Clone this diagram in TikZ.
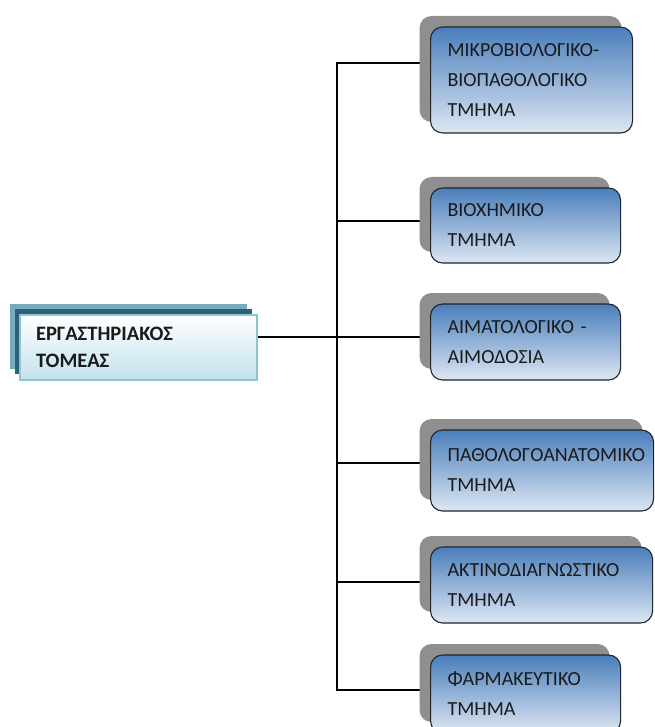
\documentclass[tikz,border=0pt]{standalone}
\usepackage{fontspec}
\setmainfont{Carlito}
\usepackage{xcolor}
\usepackage{tikz}
\usetikzlibrary{shadows, backgrounds, positioning}
\definecolor{sectorback}{HTML}{76ABBE}
\definecolor{sectormid}{HTML}{2B6275}
\definecolor{sectorborder}{HTML}{8DC5D5}
\definecolor{sectorfill}{HTML}{C3E2EB}
\definecolor{deptshadow}{HTML}{8F8F8F}
\definecolor{depttop}{HTML}{4A7EBB}
\definecolor{deptbottom}{HTML}{DDE7F3}
\definecolor{deptborder}{HTML}{1C2630}
\definecolor{textdark}{HTML}{1A1A1A}
\tikzset{
    sectornode/.style = {draw=sectorborder, line width=1.2pt, rectangle, top color=white, bottom color=sectorfill,
      inner xsep=16pt, inner ysep=0pt, node distance=0em, align=left, text=textdark,
      font=\fontsize{20.5}{27}\selectfont\bfseries,
      copy shadow={shadow xshift=-10pt, shadow yshift=11pt, fill=sectorback, draw=none},
      copy shadow={shadow xshift=-5pt, shadow yshift=6pt, fill=sectormid, draw=none}},
    deptnode/.style = {draw=deptborder, line width=1.1pt, rectangle, rounded corners=12pt,
      top color=depttop, bottom color=deptbottom, inner xsep=17pt, inner ysep=0pt,
      node distance=0em, anchor=west, align=left, text=textdark,
      font=\fontsize{20}{30}\selectfont,
      copy shadow={shadow xshift=-11pt, shadow yshift=11pt, fill=deptshadow, draw=none}},
    connect/.style = {black, line width=1.2pt}
}
\hyphenpenalty=10000
\exhyphenpenalty=10000

\begin{document}
\begin{tikzpicture}[x=1pt, y=-1pt]
    \useasboundingbox (0,0) rectangle (654,727);

    \node [name=sector, sectornode, minimum width=237pt, minimum height=65pt, text width=205pt]
        at (138.5,347.5) {ΕΡΓΑΣΤΗΡΙΑΚΟΣ\\ΤΟΜΕΑΣ};

    \node [name=mikro, deptnode, minimum width=202pt, minimum height=106pt, text width=168pt]
        at (430,80) {ΜΙΚΡΟΒΙΟΛΟΓΙΚΟ-\\ΒΙΟΠΑΘΟΛΟΓΙΚΟ\\ΤΜΗΜΑ};
    \node [name=bioxim, deptnode, minimum width=190pt, minimum height=75pt, text width=156pt]
        at (430,225.5) {ΒΙΟΧΗΜΙΚΟ\\ΤΜΗΜΑ};
    \node [name=aimat, deptnode, minimum width=190pt, minimum height=76pt, text width=156pt]
        at (430,342) {ΑΙΜΑΤΟΛΟΓΙΚΟ -\\ΑΙΜΟΔΟΣΙΑ};
    \node [name=pathol, deptnode, minimum width=223pt, minimum height=81pt, text width=189pt]
        at (430,470.5) {ΠΑΘΟΛΟΓΟΑΝΑΤΟΜΙΚΟ\\ΤΜΗΜΑ};
    \node [name=aktin, deptnode, minimum width=222pt, minimum height=76pt, text width=188pt]
        at (430,585) {ΑΚΤΙΝΟΔΙΑΓΝΩΣΤΙΚΟ\\ΤΜΗΜΑ};
    \node [name=farm, deptnode, minimum width=190pt, minimum height=78pt, text width=156pt]
        at (430,694) {ΦΑΡΜΑΚΕΥΤΙΚΟ\\ΤΜΗΜΑ};

    % trunk of the tree
    \coordinate (trunk) at (337,337);

    \begin{scope}[on background layer]
        \draw [connect] (sector.east |- trunk) -- (trunk);
        \foreach \dept/\dy in {mikro/17, bioxim/4.5, aimat/5, pathol/7.5, aktin/3, farm/4}
            \draw [connect] (trunk) |- ([yshift=\dy pt]\dept.west);
    \end{scope}
\end{tikzpicture}
\end{document}
